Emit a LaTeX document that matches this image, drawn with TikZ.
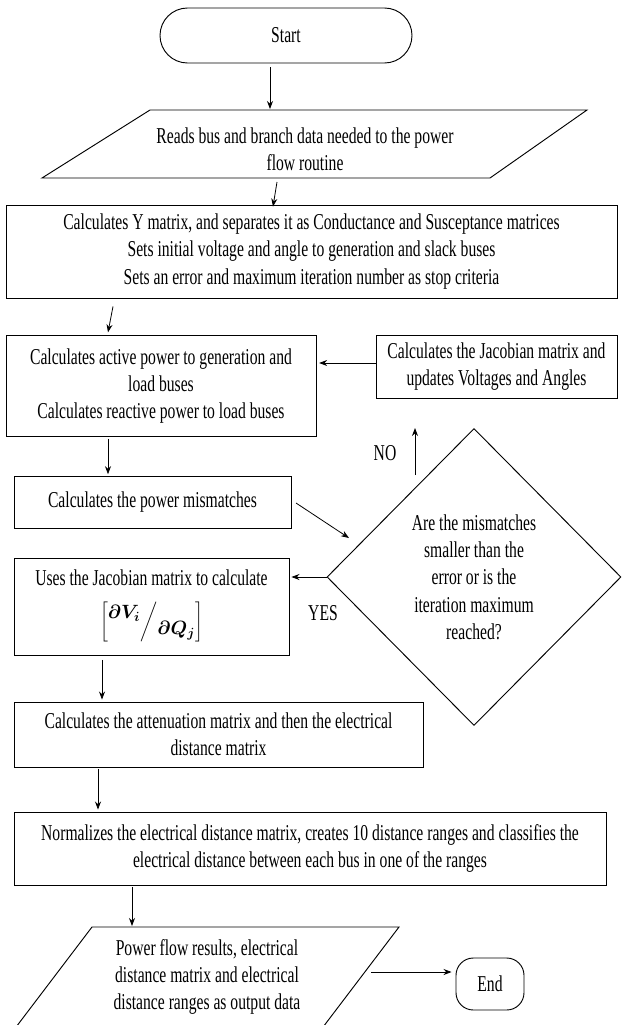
\documentclass[tikz,border=0pt]{standalone}
\usepackage{fontspec}
\setmainfont{Liberation Serif}[FakeStretch=0.69]
\usetikzlibrary{shapes.geometric,shapes.misc,arrows.meta}
\begin{document}
\begin{tikzpicture}[x=0.75pt,y=-0.75pt,
  font=\fontsize{17}{20.5}\selectfont,
  box/.style={draw, line width=0.7pt, rectangle, inner sep=1pt, align=center},
  shp/.style={draw, line width=0.7pt},
  arr/.style={-{Stealth[length=6pt,width=4.5pt]}, line width=0.6pt},
  lbl/.style={inner sep=0pt}]
\path[use as bounding box, clip] (0,0) rectangle (622,1025);

% Start
\node[draw, line width=0.7pt, rounded rectangle, inner sep=0pt,
      minimum width={252*0.75pt}, minimum height={55*0.75pt}] (start) at (286,35.5) {Start};

% Input parallelogram
\draw[shp] (150,110) -- (587,110) -- (490,178) -- (42,178) -- cycle;
\node[lbl, align=center] (p1) at (305,149) {Reads bus and branch data needed to the power\\flow routine};
\coordinate (p1top) at (270,109);
\coordinate (p1bot) at (277,182);

% Box 1
\node[box, minimum width={611*0.75pt}, minimum height={93*0.75pt}] (b1) at (311.5,251.5)
  {Calculates Y matrix, and separates it as Conductance and Susceptance matrices\\
   Sets initial voltage and angle to generation and slack buses\\
   Sets an error and maximum iteration number as stop criteria};

% Box 2
\node[box, minimum width={310*0.75pt}, minimum height={101*0.75pt}] (b2) at (161,386)
  {Calculates active power to generation and\\load buses\\Calculates reactive power to load buses};

% Jacobian box
\node[box, minimum width={241*0.75pt}, minimum height={63*0.75pt}] (jac) at (496.5,366.5)
  {Calculates the Jacobian matrix and\\updates Voltages and Angles};

% Decision
\node[draw, line width=0.7pt, diamond, inner sep=0pt, align=center,
      minimum width={294*0.75pt}, minimum height={297*0.75pt}] (dia) at (474,577)
  {Are the mismatches\\smaller than the\\error or is the\\iteration maximum\\reached?};

% Box 3
\node[box, minimum width={277*0.75pt}, minimum height={52*0.75pt}] (b3) at (152.5,502)
  {Calculates the power mismatches};

% Box 4
\node[box, minimum width={275*0.75pt}, minimum height={97*0.75pt}] (b4) at (151.5,607)
  {Uses the Jacobian matrix to calculate\\[10pt]
   {\fontsize{14}{16}\selectfont$\left[\rule[-13pt]{0pt}{29pt}\raisebox{6pt}{\boldmath$\partial V_{i}$}\middle/\raisebox{-6pt}{\boldmath$\partial Q_{j}$}\right]$}};

% Box 5
\node[box, minimum width={409*0.75pt}, minimum height={65*0.75pt}] (b5) at (218.5,734.5)
  {Calculates the attenuation matrix and then the electrical\\distance matrix};

% Box 6
\node[box, minimum width={592*0.75pt}, minimum height={73*0.75pt}] (b6) at (310,848.5)
  {Normalizes the electrical distance matrix, creates 10 distance ranges and classifies the\\
   electrical distance between each bus in one of the ranges};

% Output parallelogram
\draw[shp] (92,927) -- (399,927) -- (317,1035) -- (10,1035) -- cycle;
\node[lbl, align=center] (out) at (207,977)
  {Power flow results, electrical\\distance matrix and electrical\\distance ranges as output data};
\coordinate (outtop) at (132,926);
\coordinate (outright) at (371,972);

% End
\node[draw, line width=0.7pt, rectangle, rounded corners=13pt, inner sep=0pt,
      minimum width={68*0.75pt}, minimum height={52*0.75pt}] (end) at (490,984) {End};

% Labels
\node[lbl] (no) at (385,453) {NO};
\node[lbl] (yes) at (323,613) {YES};

% Free connector ends
\coordinate (upS) at (415,475);
\coordinate (upE) at (415,428);
\coordinate (mmS) at (296,503);
\coordinate (mmE) at (349,538);

% Connectors
\draw[arr] ([xshift=-12pt,yshift=-3pt]start.south) -- (p1top);
\draw[arr] (p1bot) -- ([xshift={-38.5*0.75pt},yshift=-1.5pt]b1.north);
\draw[arr] ([xshift={-198.5*0.75pt},yshift=-6pt]b1.south) -- ([xshift={-53*0.75pt},yshift=2pt]b2.north);
\draw[arr] (jac.west |- 0,363) -- ([xshift=2pt]b2.east |- 0,363);
\draw[arr] (upS) -- (upE);
\draw[arr] ([yshift=-1.5pt]b2.south -| 108,0) -- ([yshift=1pt]b3.north -| 108,0);
\draw[arr] (mmS) -- (mmE);
\draw[arr] (dia.west) -- ([xshift=1.5pt]b4.east |- dia.west);
\draw[arr] ([yshift=-3pt]b4.south -| 102,0) -- ([yshift=1.5pt]b5.north -| 102,0);
\draw[arr] ([yshift=-1pt]b5.south -| 98,0) -- ([yshift=1.5pt]b6.north -| 98,0);
\draw[arr] ([yshift=-1.5pt]b6.south -| 132,0) -- (outtop);
\draw[arr] (outright) -- ([xshift=-3pt]end.west |- outright);
\end{tikzpicture}
\end{document}
